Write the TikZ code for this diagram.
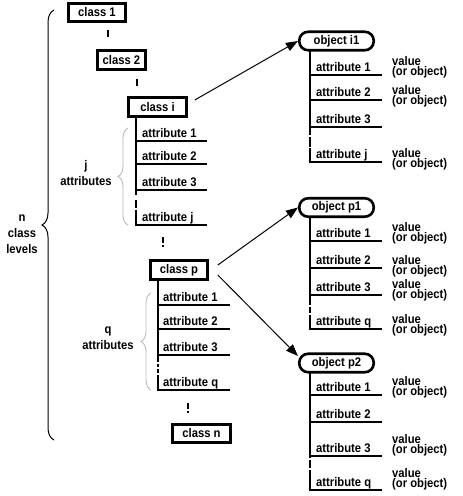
\documentclass[tikz,border=0pt]{standalone}
\usepackage{fontspec}
\setmainfont{Liberation Sans}[FakeStretch=0.9]
\usepackage{tikz}
\usetikzlibrary{arrows.meta}
\usetikzlibrary{decorations.pathreplacing}

\tikzset{
	classbox/.style={draw,line width=2.6pt,minimum height=18.5pt,inner sep=0pt},
	objbox/.style={draw,line width=2.6pt,rounded corners=9pt,minimum width=74.5pt,minimum height=18.5pt,inner sep=0pt},
	attr/.style={anchor=base west,inner sep=0pt},
	val/.style={anchor=west,align=left,inner sep=0pt,font=\bfseries\fontsize{12.5}{10}\selectfont},
	lbl/.style={align=center,inner sep=0pt,font=\bfseries\fontsize{12.5}{16}\selectfont},
	spine/.style={line width=2pt},
	gapmark/.style={line width=2.8pt},
	arr/.style={line width=1pt,-{Triangle[length=12pt,width=9pt]}},
	bracegray/.style={draw=black!28,line width=0.9pt,decorate,decoration={brace,amplitude=10pt}}
}

\begin{document}
\begin{tikzpicture}[x=1pt,y=-1pt,font=\bfseries\fontsize{12.5}{13}\selectfont]
	\useasboundingbox (0,0) rectangle (463,496);
	% class levels
	\node[classbox,minimum width=57pt] (c1) at (97,12.5) {class 1};
	\node[classbox,minimum width=48.5pt] (c2) at (121.5,60) {class 2};
	\node[classbox,minimum width=58pt] (ci) at (157.5,107) {class i};
	\node[classbox,minimum width=57pt] (cp) at (179,270) {class p};
	\node[classbox,minimum width=58pt] (cn) at (201.5,433.5) {class n};
	\draw[gapmark] (108,30) -- (108,37);
	\draw[spine] (137,79) -- (137,86);
	\draw[gapmark,dash pattern=on 6pt off 1.5pt on 2pt] (163,237) -- (163,247);
	\draw[gapmark,dash pattern=on 6pt off 1.5pt on 2pt] (188,403) -- (188,413);
	% n class levels
	\draw[line width=1pt,decorate,decoration={brace,amplitude=12pt}] (54,440) -- (54,10);
	\node[lbl] (nlev) at (22,234) {n\\class\\levels};
	% attributes of class i
	\draw[spine] (136,116) -- (136,195);
	\draw[gapmark] (136,200) -- (136,208);
	\draw[spine] (136,210) -- (136,226);
	\foreach \n/\y in {1/141,2/164,3/190,j/225} {
		\draw[spine] (135,\y) -- (207,\y);
		\node[attr] (ci-\n) at (142,\y-4) {attribute \n};
	}
	\draw[bracegray] (128,225) -- (128,128);
	\node[lbl] (jattr) at (86,173.5) {j\\attributes};
	% attributes of class p
	\draw[spine] (158,280) -- (158,362);
	\draw[gapmark,dash pattern=on 3pt off 2pt on 4pt] (158,364) -- (158,373);
	\draw[spine] (158,375) -- (158,391);
	\foreach \n/\y in {1/305,2/329,3/355,q/390} {
		\draw[spine] (157,\y) -- (230,\y);
		\node[attr] (cp-\n) at (163,\y-4) {attribute \n};
	}
	\draw[bracegray] (151,390) -- (151,293);
	\node[lbl] (qattr) at (108,338) {q\\attributes};
	% objects
	\node[objbox] (oi1) at (336.5,41) {object i1};
	\node[objbox] (op1) at (336.5,207.5) {object p1};
	\node[objbox] (op2) at (336.5,363) {object p2};
	\draw[arr] ([shift={(7,-7)}]ci.east) -- (oi1.west);
	\draw[arr] ([shift={(9,-5)}]cp.east) -- (op1.west);
	\draw[arr] ([shift={(9,5)}]cp.east) -- ([yshift=7pt]op2.west);
	% object i1
	\draw[spine] (310,51) -- (310,135);
	\draw[gapmark] (310,137) -- (310,147);
	\draw[spine] (310,148) -- (310,163);
	\foreach \n/\y in {1/75,2/100,3/127,j/162} {
		\draw[spine] (309,\y) -- (382,\y);
		\node[attr] (oi1-\n) at (316,\y-4) {attribute \n};
	}
	\foreach \n/\y in {1/67,2/96,j/159}
		\node[val] (oi1-v\n) at (392,\y) {value\\(or object)};
	% object p1
	\draw[spine] (310,217) -- (310,305);
	\draw[gapmark] (310,307) -- (310,313);
	\draw[spine] (310,315) -- (310,330);
	\foreach \n/\y in {1/241,2/268,3/295,q/329} {
		\draw[spine] (309,\y) -- (382,\y);
		\node[attr] (op1-\n) at (316,\y-4) {attribute \n};
	}
	\foreach \n/\y in {1/233,2/266,3/290,q/325}
		\node[val] (op1-v\n) at (392,\y) {value\\(or object)};
	% object p2
	\draw[spine] (310,372) -- (310,458);
	\draw[gapmark] (310,460) -- (310,468);
	\draw[spine] (310,470) -- (310,491);
	\foreach \n/\y in {1/395,2/422,3/456,q/490} {
		\draw[spine] (309,\y) -- (382,\y);
		\node[attr] (op2-\n) at (316,\y-4) {attribute \n};
	}
	\foreach \n/\y in {1/387,3/445,q/479}
		\node[val] (op2-v\n) at (392,\y) {value\\(or object)};
\end{tikzpicture}
\end{document}
